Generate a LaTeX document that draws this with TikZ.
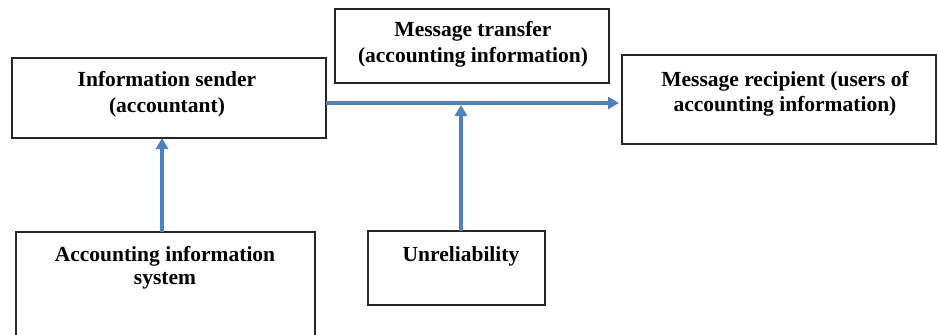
\documentclass[tikz,border=0pt]{standalone}
\usepackage{fontspec}
\setmainfont{Liberation Serif}
\usetikzlibrary{arrows.meta,calc}
\definecolor{arrblue}{RGB}{79,129,189}
\begin{document}
\begin{tikzpicture}[x=1pt,y=-1pt,
  box/.style={draw=black!85, line width=1.3pt, fill=white, inner sep=0pt, outer sep=0pt},
  lbl/.style={font=\fontsize{21.5}{26}\selectfont\bfseries, align=center, inner sep=0pt, anchor=north},
  arr/.style={draw=arrblue, line width=4pt, -{Triangle[width=12pt,length=11pt]}}]
\useasboundingbox (0,0) rectangle (938,335);
\clip (0,0) rectangle (938,335);
\fill[white] (0,0) rectangle (938,335);
% boxes
\node[box, minimum width=314, minimum height=80] (sender) at (169,98) {};
\node[box, minimum width=274, minimum height=74] (transfer) at (472,46) {};
\node[box, minimum width=314, minimum height=89] (recip) at (779,99.5) {};
\node[box, minimum width=299, minimum height=113] (acc) at (165.5,288.5) {};
\node[box, minimum width=177, minimum height=74] (unrel) at (456.5,268) {};
% texts
\node[lbl] (tsender) at (167,71) {Information sender\\(accountant)};
\node[lbl] (ttransfer) at (473,21) {Message transfer\\(accounting information)};
\node[lbl, font=\fontsize{21.5}{25}\selectfont\bfseries] (trecip) at (785,71) {Message recipient (users of\\accounting information)};
\node[lbl, font=\fontsize{21.5}{23}\selectfont\bfseries] (tacc) at (165,246) {Accounting information\\system};
\node[lbl] (tunrel) at (461,246) {Unreliability};
% connectors
\coordinate (hy) at (0,103);
\coordinate (ax) at (162,0);
\coordinate (j) at (461,105);
\draw[arr, shorten >=3pt] (sender.east |- hy) -- (recip.west |- hy);
\draw[arr] (acc.north -| ax) -- (sender.south -| ax);
\draw[arr] (unrel.north -| j) -- (j);
\end{tikzpicture}
\end{document}
